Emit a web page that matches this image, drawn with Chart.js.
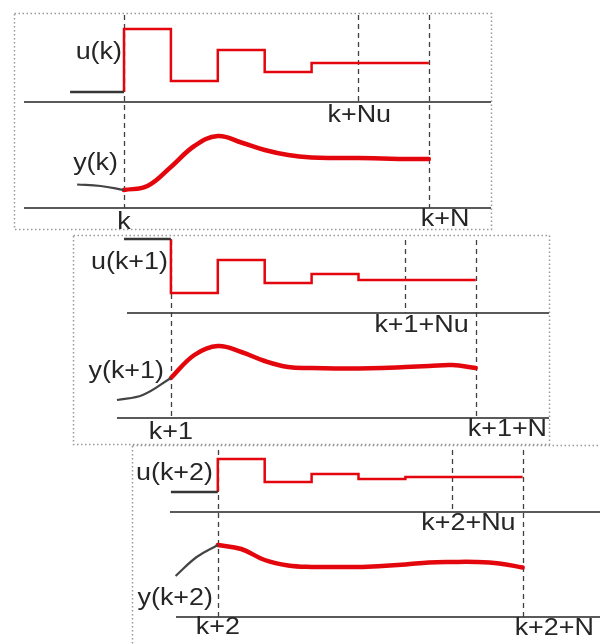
<!DOCTYPE html>
<html>
<head>
<meta charset="utf-8">
<script src="https://cdn.jsdelivr.net/npm/chart.js@4.4.1/dist/chart.umd.min.js"></script>
<style>
  html, body { margin: 0; padding: 0; background: #fff; }
  canvas { display: block; }
</style>
</head>
<body>
<canvas id="mpc" width="600" height="644"></canvas>
<script>
// Receding-horizon control: three successive prediction windows (k, k+1, k+2).

// Horizons, in sample steps
const N = 6.5;    // prediction horizon
const Nu = 5;     // control horizon
const windowStart = [0, 1, 2];

// Text of each window
const inputLabels   = ['u(k)', 'u(k+1)', 'u(k+2)'];
const outputLabels  = ['y(k)', 'y(k+1)', 'y(k+2)'];
const startLabels   = ['k', 'k+1', 'k+2'];
const controlLabels = ['k+Nu', 'k+1+Nu', 'k+2+Nu'];
const horizonLabels = ['k+N', 'k+1+N', 'k+2+N'];

// Input already applied before each window
const uPastFrom = [-1.15, 0, 1];
const uPast = [1.0, 7.4, 2.0];

// Planned input moves, one per step from the window start
const uPlan0 = [7.3, 2.1, 5.2, 3.0, 3.9];
const uPlan1 = [2.0, 5.3, 3.0, 3.9, 3.3];
const uPlan2 = [5.3, 3.0, 3.8, 3.3, 3.5];

// Measured output before each window
const yPastT0 = [-1.0, -0.5, 0];   const yPast0 = [2.35, 2.2, 1.8];
const yPastT1 = [-0.15, 0.4, 1];   const yPast1 = [1.8, 2.3, 4.0];
const yPastT2 = [1.1, 1.55, 2];    const yPast2 = [4.1, 6.0, 7.2];

// Predicted output, every half step from the window start to the horizon
const yPred0 = [1.8, 2.2, 4.1, 6.2, 7.2, 6.55, 5.8, 5.3, 5.05, 5.0, 5.0, 4.95, 4.9, 4.9];
const yPred1 = [4.0, 6.3, 7.2, 6.6, 5.7, 5.1, 5.0, 4.95, 4.95, 5.0, 5.1, 5.2, 5.3, 5.0];
const yPred2 = [7.2, 6.8, 5.7, 5.15, 5.0, 5.0, 5.0, 5.1, 5.25, 5.45, 5.5, 5.5, 5.35, 4.95];

const uPlans = [uPlan0, uPlan1, uPlan2];
const yPastT = [yPastT0, yPastT1, yPastT2];
const yPasts = [yPast0, yPast1, yPast2];
const yPreds = [yPred0, yPred1, yPred2];
const predStep = 0.5;

// ---- Page layout (canvas pixels) ----
const W = 600, H = 644;
const originPx = 124, stepPx = 46.9, unitPx = 10;
const uAxisPx = [102, 313, 512];
const yAxisPx = [208, 418, 617];
const frames = [
  { l: 14,  t: 13,  r: 491, b: 229 },
  { l: 73,  t: 235, r: 549, b: 444 },
  { l: 132, t: 445, r: 612, b: 652 }
];
const uAxisSpan = [[24, 491], [127, 549], [170, 600]];
const yAxisSpan = [[24, 491], [117, 549], [176, 600]];
const guideTop = [15, 240, 450];
const labelPos = [
  { u: [122, 53],  y: [118, 164], k: 223, nu: 116, n: 220 },
  { u: [168, 263], y: [164, 372], k: 433, nu: 326, n: 430 },
  { u: [213, 474], y: [213, 599], k: 628, nu: 524, n: 629 }
];

const RED = '#e3070d';
const DARK = '#363636';
const TEXT = '#262626';

// ---- Datasets ----
const datasets = [];
for (let p = 0; p < 3; p++) {
  const s = windowStart[p];
  const plan = uPlans[p];

  datasets.push({
    yAxisID: 'u' + p,
    data: [{ x: uPastFrom[p], y: uPast[p] }, { x: s, y: uPast[p] }],
    borderColor: DARK, borderWidth: 2.5
  });

  const planPts = [{ x: s, y: uPast[p] }];
  plan.forEach((v, i) => planPts.push({ x: s + i, y: v }));
  planPts.push({ x: s + N, y: plan[plan.length - 1] });
  datasets.push({
    yAxisID: 'u' + p,
    data: planPts,
    stepped: 'before',
    borderColor: RED, borderWidth: 2.5
  });

  datasets.push({
    yAxisID: 'y' + p,
    data: yPastT[p].map((t, i) => ({ x: t, y: yPasts[p][i] })),
    tension: 0.4,
    borderColor: '#444444', borderWidth: 2.2
  });

  datasets.push({
    yAxisID: 'y' + p,
    data: yPreds[p].map((v, i) => ({ x: s + i * predStep, y: v })),
    tension: 0.4,
    borderColor: RED, borderWidth: 4.5,
    borderCapStyle: 'round', borderJoinStyle: 'round'
  });
}

// One hidden vertical scale per signal row, all sharing the full canvas height
const scales = {
  x: {
    type: 'linear', display: false,
    min: -originPx / stepPx, max: (W - originPx) / stepPx
  }
};
for (let p = 0; p < 3; p++) {
  scales['u' + p] = { type: 'linear', display: false,
    min: (uAxisPx[p] - H) / unitPx, max: uAxisPx[p] / unitPx };
  scales['y' + p] = { type: 'linear', display: false,
    min: (yAxisPx[p] - H) / unitPx, max: yAxisPx[p] / unitPx };
}

function stretchedText(ctx, txt, x, y, align) {
  const sx = 1.17;
  ctx.save();
  ctx.font = '23px "Liberation Sans", Arial, sans-serif';
  ctx.fillStyle = TEXT;
  ctx.textBaseline = 'middle';
  const w = ctx.measureText(txt).width * sx;
  let left = x;
  if (align === 'center') left = x - w / 2;
  else if (align === 'right') left = x - w;
  ctx.translate(left, y);
  ctx.scale(sx, 1);
  ctx.textAlign = 'left';
  ctx.fillText(txt, 0, 0);
  ctx.restore();
}

const framePlugin = {
  id: 'frames',
  beforeDatasetsDraw(chart) {
    const ctx = chart.ctx;
    const xs = chart.scales.x;
    ctx.save();
    for (let p = 0; p < 3; p++) {
      const f = frames[p];
      // dotted window border
      ctx.strokeStyle = '#999999';
      ctx.lineWidth = 1.5;
      ctx.setLineDash([1.5, 2.5]);
      ctx.strokeRect(f.l + 0.5, f.t + 0.5, f.r - f.l, f.b - f.t);

      // signal baselines
      ctx.setLineDash([]);
      ctx.strokeStyle = '#5a5a5a';
      ctx.lineWidth = 2;
      const uy = chart.scales['u' + p].getPixelForValue(0);
      const yy = chart.scales['y' + p].getPixelForValue(0);
      ctx.beginPath();
      ctx.moveTo(uAxisSpan[p][0], uy); ctx.lineTo(uAxisSpan[p][1], uy);
      ctx.moveTo(yAxisSpan[p][0], yy); ctx.lineTo(yAxisSpan[p][1], yy);
      ctx.stroke();

      // dashed time markers: window start, control horizon, prediction horizon
      const s = windowStart[p];
      ctx.strokeStyle = '#404040';
      ctx.lineWidth = 1.3;
      ctx.setLineDash([5, 4]);
      ctx.beginPath();
      const xk = Math.round(xs.getPixelForValue(s)) + 0.5;
      const xnu = Math.round(xs.getPixelForValue(s + Nu)) + 0.5;
      const xn = Math.round(xs.getPixelForValue(s + N)) + 0.5;
      ctx.moveTo(xk, guideTop[p]); ctx.lineTo(xk, yy);
      ctx.moveTo(xnu, guideTop[p]); ctx.lineTo(xnu, uy);
      ctx.moveTo(xn, guideTop[p]); ctx.lineTo(xn, yy);
      ctx.stroke();
    }
    ctx.restore();
  },
  afterDatasetsDraw(chart) {
    const ctx = chart.ctx;
    const xs = chart.scales.x;
    for (let p = 0; p < 3; p++) {
      const s = windowStart[p];
      const lp = labelPos[p];
      stretchedText(ctx, inputLabels[p], lp.u[0], lp.u[1], 'right');
      stretchedText(ctx, outputLabels[p], lp.y[0], lp.y[1], 'right');
      stretchedText(ctx, startLabels[p], xs.getPixelForValue(s), lp.k, 'center');
      stretchedText(ctx, controlLabels[p], xs.getPixelForValue(s + Nu) - 31, lp.nu, 'left');
      stretchedText(ctx, horizonLabels[p], xs.getPixelForValue(s + N) - 8, lp.n, 'left');
    }
  }
};

new Chart(document.getElementById('mpc'), {
  type: 'line',
  data: { datasets },
  options: {
    responsive: false,
    maintainAspectRatio: false,
    animation: false,
    devicePixelRatio: 1,
    layout: { padding: 0 },
    elements: { point: { radius: 0 }, line: { fill: false } },
    plugins: { legend: { display: false }, tooltip: { enabled: false } },
    scales
  },
  plugins: [framePlugin]
});
</script>
</body>
</html>
